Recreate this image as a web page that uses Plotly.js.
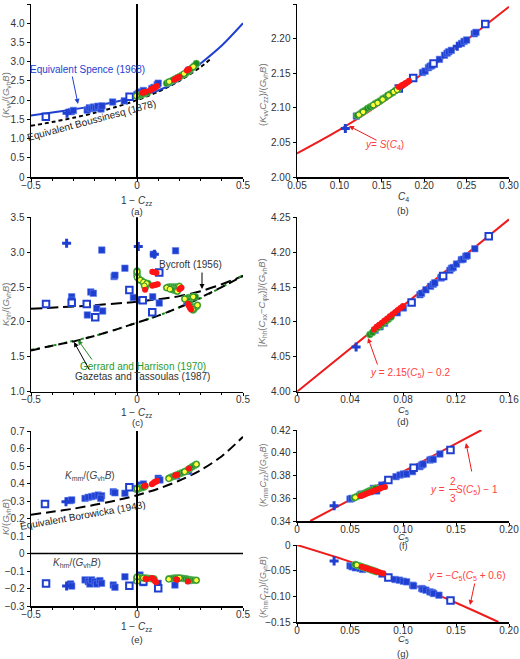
<!DOCTYPE html>
<html><head><meta charset="utf-8">
<script src="https://cdn.plot.ly/plotly-3.0.1.min.js"></script>
<style>html,body{margin:0;padding:0;background:#fff}#c{width:520px;height:659px}</style>
</head><body><div id="c"></div>
<script>
// ---------- Panel (a) ----------
const spenceX=[-0.5,-0.4,-0.3,-0.2,-0.1,0,0.1,0.2,0.3,0.4,0.5];
const spenceY=[1.60,1.68,1.76,1.85,1.96,2.09,2.25,2.52,2.95,3.42,4.00];
const boussX=[-0.5,-0.4,-0.3,-0.2,-0.1,0,0.1,0.2,0.3,0.35];
const boussY=[1.33,1.43,1.54,1.67,1.82,2.0,2.22,2.5,2.86,3.08];
const aFillX=[-0.31,-0.30,-0.235,-0.225,-0.215,-0.205,-0.195,-0.185,-0.17,-0.165,-0.115,-0.06,0.0,0.008,0.018,0.03,0.07,0.08,0.095,0.10,0.245];
const aFillY=[1.70,1.73,1.74,1.80,1.78,1.82,1.80,1.84,1.77,1.85,1.95,1.98,2.15,2.18,2.21,2.25,2.30,2.33,2.40,2.44,2.78];
const aOpenX=[-0.43,-0.035], aOpenY=[1.57,2.09];
const aCrossX=[-0.33], aCrossY=[1.66];
const aGreenX=[0,0.005,0.01,0.015,0.02,0.03,0.04,0.05,0.14,0.15,0.16,0.17,0.18,0.19,0.2,0.21,0.22,0.23,0.24,0.25,0.26,0.27,0.28];
const aGreenY=[2.10,2.11,2.12,2.13,2.14,2.16,2.18,2.20,2.44,2.47,2.49,2.52,2.55,2.58,2.61,2.64,2.67,2.70,2.74,2.79,2.84,2.89,2.95];
const aYelX=[-0.003,0.038,0.152,0.222,0.266], aYelY=[2.11,2.21,2.48,2.69,2.87];
const aRedX=[0.025,0.03,0.035,0.04,0.06,0.065,0.07,0.075,0.08,0.085,0.09,0.095,0.175,0.18,0.185,0.19,0.195,0.2,0.235,0.24,0.245];
const aRedY=[2.19,2.20,2.21,2.22,2.25,2.27,2.28,2.30,2.31,2.33,2.35,2.37,2.53,2.55,2.56,2.58,2.59,2.61,2.77,2.79,2.81];

// ---------- Panel (b) ----------
const bCurveX=[0.05,0.10,0.15,0.20,0.25,0.30];
const bCurveY=[2.034,2.068,2.107,2.151,2.198,2.246];
const bFillX=[0.120,0.198,0.201,0.205,0.207,0.209,0.218,0.224,0.227,0.229,0.232,0.244,0.247,0.250,0.259,0.261];
const bFillY=[2.088,2.151,2.153,2.158,2.160,2.161,2.170,2.176,2.179,2.181,2.183,2.193,2.196,2.198,2.207,2.209];
const bOpenX=[0.170,0.187,0.211,0.272], bOpenY=[2.128,2.143,2.164,2.221];
const bCrossX=[0.107,0.239], bCrossY=[2.070,2.189];
const bGreenX=[0.121,0.124,0.127,0.130,0.133,0.136,0.139,0.142,0.145,0.148,0.151,0.154,0.157,0.160,0.163,0.166,0.169];
const bGreenY=[2.089,2.091,2.094,2.096,2.099,2.101,2.103,2.106,2.108,2.110,2.113,2.115,2.118,2.120,2.122,2.125,2.127];
const bYelX=[0.123,0.128,0.140,0.145,0.151,0.158,0.164,0.168];
const bYelY=[2.090,2.094,2.104,2.107,2.112,2.118,2.123,2.126];
const bRedX=[0.170,0.172,0.174,0.176,0.178,0.180,0.182];
const bRedY=[2.130,2.131,2.133,2.134,2.136,2.137,2.139];

// ---------- Panel (c) ----------
const bycX=[-0.5,-0.25,0,0.2,0.3,0.4,0.5];
const bycY=[2.19,2.23,2.29,2.37,2.44,2.54,2.66];
const gerX=[-0.5,-0.4,-0.3,-0.2,-0.1,0,0.1,0.2,0.3,0.4,0.5];
const gerY=[1.60,1.66,1.73,1.80,1.89,1.99,2.09,2.21,2.34,2.50,2.67];
const gazX=[-0.5,-0.4,-0.3,-0.2,-0.1,0,0.1,0.2,0.3,0.4,0.5];
const gazY=[1.59,1.66,1.72,1.80,1.89,1.99,2.09,2.21,2.35,2.50,2.66];
const cFillX=[-0.166,0.077,0.182,-0.057,-0.108,-0.104,-0.218,-0.206,-0.308,-0.308,-0.017,0.012,0.074,0.105,-0.19,-0.162,-0.234,0.235];
const cFillY=[3.03,2.97,3.02,2.77,2.65,2.67,2.43,2.41,2.36,2.31,2.35,2.31,2.36,2.27,2.195,2.156,2.10,2.29];
const cOpenX=[-0.036,0.105,-0.429,-0.308,-0.237,0.027,-0.197,0.072];
const cOpenY=[2.458,2.71,2.257,2.276,2.257,2.31,2.067,2.138];
const cCrossX=[-0.332,0.006,0.082], cCrossY=[3.127,3.08,2.97];
const cGreenX=[0,0,0,0.002,0.008,0.015,0.022,0.03,0.038,0.045,0.052,0.035,0.04,0.14,0.15,0.16,0.17,0.18,0.19,0.2,0.16,0.17,0.18,0.19,0.225,0.235,0.245,0.255,0.265,0.275,0.24,0.25,0.255,0.26,0.265,0.27,0.28,0.285];
const cGreenY=[2.73,2.70,2.67,2.64,2.62,2.60,2.59,2.57,2.56,2.55,2.55,2.52,2.50,2.49,2.50,2.50,2.50,2.50,2.50,2.51,2.47,2.46,2.45,2.44,2.33,2.34,2.35,2.35,2.36,2.36,2.30,2.26,2.22,2.19,2.17,2.19,2.22,2.24];
const cYelX=[0,0,0.015,0.03,0.045,0.035,0.14,0.155,0.19,0.2,0.225,0.265,0.262,0.285];
const cYelY=[2.72,2.64,2.60,2.57,2.55,2.52,2.49,2.47,2.44,2.51,2.33,2.36,2.18,2.24];
const cRedX=[0.072,0.078,0.085,0.092,0.072,0.078,0.085,0.092,0.098,0.038,0.2,0.205,0.21,0.24,0.243,0.247,0.25,0.255];
const cRedY=[2.72,2.715,2.71,2.705,2.52,2.525,2.53,2.535,2.54,2.46,2.47,2.48,2.49,2.26,2.24,2.22,2.20,2.18];

// ---------- Panel (d) ----------
const dLineX=[0,0.08,0.16], dLineY=[4.0,4.123,4.247];
const dFillX=[0.0589,0.0627,0.066,0.0757,0.0803,0.0928,0.094,0.0973,0.1008,0.1028,0.104,0.1086,0.109,0.1154,0.1166,0.1179,0.1204,0.124,0.1254,0.1274,0.1284,0.1342];
const dFillY=[4.088,4.093,4.098,4.113,4.120,4.139,4.141,4.146,4.151,4.154,4.156,4.163,4.164,4.174,4.177,4.178,4.183,4.189,4.190,4.194,4.195,4.205];
const dOpenX=[0.0865,0.1103,0.1447], dOpenY=[4.128,4.166,4.223];
const dCrossX=[0.0446], dCrossY=[4.064];
const dGreenX=[0.055,0.057,0.059,0.061,0.063,0.065,0.067,0.069,0.071];
const dGreenY=[4.082,4.085,4.089,4.092,4.095,4.098,4.101,4.104,4.107];
const dRedX=[0.058,0.060,0.062,0.064,0.066,0.068,0.070,0.072,0.074,0.076,0.078,0.080];
const dRedY=[4.089,4.093,4.096,4.099,4.102,4.105,4.108,4.111,4.114,4.117,4.120,4.123];

// ---------- Panel (e) ----------
const borX=[-0.5,-0.4,-0.3,-0.2,-0.1,0,0.1,0.2,0.3,0.4,0.5];
const borY=[0.222,0.238,0.256,0.278,0.303,0.333,0.37,0.417,0.476,0.556,0.667];
const eFillX=[-0.316,-0.308,-0.245,-0.230,-0.214,-0.198,-0.183,-0.167,-0.171,-0.112,-0.104,-0.057,-0.001,0.014,0.030,0.10,0.108,0.187,0.243];
const eFillY=[0.302,0.306,0.315,0.321,0.325,0.329,0.334,0.330,0.315,0.353,0.347,0.344,0.372,0.391,0.397,0.43,0.42,0.443,0.47];
const eOpenX=[-0.434,-0.036], eOpenY=[0.283,0.378];
const eCrossX=[-0.335], eCrossY=[0.296];
const eGreenX=[0,0.005,0.01,0.02,0.03,0.15,0.16,0.17,0.18,0.19,0.2,0.21,0.22,0.23,0.24,0.25,0.26,0.27,0.28];
const eGreenY=[0.365,0.37,0.372,0.375,0.378,0.43,0.435,0.44,0.445,0.45,0.455,0.46,0.465,0.47,0.478,0.487,0.495,0.503,0.51];
const eYelX=[0,0.04,0.15,0.225,0.28], eYelY=[0.37,0.382,0.428,0.467,0.51];
const eRedX=[0.035,0.04,0.07,0.075,0.08,0.085,0.09,0.095,0.18,0.185,0.19,0.245];
const eRedY=[0.385,0.388,0.395,0.40,0.405,0.41,0.41,0.415,0.445,0.448,0.45,0.485];
const ehFillX=[-0.313,-0.308,-0.245,-0.230,-0.222,-0.214,-0.198,-0.190,-0.175,-0.167,-0.112,-0.104,-0.057,-0.001,0.014,0.030,0.10,0.179,0.245];
const ehFillY=[-0.174,-0.186,-0.151,-0.161,-0.174,-0.151,-0.161,-0.174,-0.155,-0.170,-0.180,-0.193,-0.133,-0.151,-0.123,-0.167,-0.17,-0.18,-0.155];
const ehOpenX=[-0.429,-0.036,0.10,0.03], ehOpenY=[-0.171,-0.184,-0.199,-0.16];
const ehCrossX=[-0.332], ehCrossY=[-0.186];
const ehGreenX=[0,0.01,0.02,0.03,0.04,0.05,0.06,0.07,0.08,0.15,0.16,0.17,0.18,0.19,0.2,0.21,0.22,0.23,0.24,0.25,0.26,0.27,0.28];
const ehGreenY=[-0.135,-0.137,-0.138,-0.14,-0.14,-0.142,-0.143,-0.144,-0.145,-0.145,-0.143,-0.142,-0.14,-0.14,-0.14,-0.141,-0.143,-0.145,-0.147,-0.15,-0.152,-0.153,-0.153];
const ehYelX=[0,0,0.03,0.15,0.2,0.28], ehYelY=[-0.135,-0.16,-0.14,-0.147,-0.14,-0.153];
const ehRedX=[0.04,0.045,0.07,0.075,0.08,0.085,0.09,0.185,0.19,0.24];
const ehRedY=[-0.145,-0.147,-0.14,-0.145,-0.15,-0.158,-0.165,-0.148,-0.15,-0.16];

// ---------- Panel (f) ----------
const fLineX=[0.0125,0.05,0.10,0.15,0.174], fLineY=[0.340,0.3586,0.3833,0.408,0.420];
const fFillX=[0.050,0.0517,0.0596,0.061,0.069,0.072,0.0752,0.080,0.0934,0.0972,0.1003,0.1034,0.109,0.116,0.1176,0.119,0.1254,0.127,0.1285,0.1348];
const fFillY=[0.3593,0.3599,0.3629,0.3637,0.3658,0.3687,0.3664,0.3716,0.379,0.3804,0.3813,0.3813,0.3834,0.3878,0.3892,0.390,0.3936,0.3942,0.3942,0.3989];
const fOpenX=[0.0862,0.110,0.1448], fOpenY=[0.376,0.3869,0.4024];
const fCrossX=[0.035], fCrossY=[0.3535];
const fGreenX=[0.054,0.056,0.058,0.060,0.062,0.064,0.066,0.068,0.070,0.072,0.074];
const fGreenY=[0.3605,0.3613,0.3622,0.3630,0.3638,0.3646,0.3655,0.3663,0.3671,0.3679,0.3687];
const fYelX=[0.055], fYelY=[0.3607];
const fRedX=[0.060,0.062,0.064,0.066,0.068,0.070,0.072,0.074,0.076,0.078,0.080,0.083];
const fRedY=[0.3620,0.3627,0.3634,0.3641,0.3648,0.3656,0.3663,0.3670,0.3677,0.3684,0.3692,0.3700];

// ---------- Panel (g) ----------
const gLineX=[0,0.05,0.10,0.15,0.19], gLineY=[0,-0.0325,-0.070,-0.1125,-0.150];
const gFillX=[0.050,0.052,0.055,0.0596,0.062,0.080,0.0925,0.0966,0.1003,0.1034,0.109,0.110,0.1176,0.119,0.1216,0.1254,0.1276,0.129,0.1339];
const gFillY=[-0.0404,-0.0424,-0.0444,-0.0457,-0.0476,-0.0568,-0.0672,-0.0685,-0.0705,-0.0718,-0.0783,-0.0796,-0.0848,-0.0861,-0.088,-0.0913,-0.0926,-0.0946,-0.0978];
const gOpenX=[0.0862,0.1448], gOpenY=[-0.0633,-0.1083];
const gCrossX=[0.035], gCrossY=[-0.0313];
const gGreenX=[0.055,0.057,0.059,0.061,0.063,0.065,0.067,0.069,0.071,0.073,0.075];
const gGreenY=[-0.038,-0.0394,-0.0408,-0.0422,-0.0436,-0.045,-0.0464,-0.0478,-0.0492,-0.0506,-0.052];
const gYelX=[0.0564], gYelY=[-0.0391];
const gRedX=[0.061,0.063,0.065,0.067,0.069,0.071,0.073,0.075,0.077,0.079,0.0815];
const gRedY=[-0.0424,-0.0437,-0.045,-0.0463,-0.0476,-0.0489,-0.0502,-0.0515,-0.0528,-0.0541,-0.0555];

// ---------- tick labels ----------
const tkLeftX=[-0.5,0,0.5], tkLeftXT=['\u22120.5','0','0.5'];
const tkLeftMinor=[-0.4,-0.3,-0.2,-0.1,0.1,0.2,0.3,0.4];
const tkAY=[0,0.5,1,1.5,2,2.5,3,3.5,4,4.5], tkAYT=['0','0.5','1.0','1.5','2.0','2.5','3.0','3.5','4.0','4.5'];
const tkBX=[0.05,0.10,0.15,0.20,0.25,0.30], tkBXT=['0.05','0.10','0.15','0.20','0.25','0.30'];
const tkBY=[2.00,2.05,2.10,2.15,2.20,2.25], tkBYT=['2.00','2.05','2.10','2.15','2.20','2.25'];
const tkCY=[1,1.5,2,2.5,3,3.5], tkCYT=['1.0','1.5','2.0','2.5','3.0','3.5'];
const tkDX=[0,0.04,0.08,0.12,0.16], tkDXT=['0','0.04','0.08','0.12','0.16'];
const tkDY=[4.00,4.05,4.10,4.15,4.20,4.25], tkDYT=['4.00','4.05','4.10','4.15','4.20','4.25'];
const tkEY=[-0.3,-0.2,-0.1,0,0.1,0.2,0.3,0.4,0.5,0.6,0.7], tkEYT=['\u22120.3','\u22120.2','\u22120.1','0','0.1','0.2','0.3','0.4','0.5','0.6','0.7'];
const tkFX=[0,0.05,0.10,0.15,0.20], tkFXT=['0','0.05','0.10','0.15','0.20'];
const tkFY=[0.34,0.36,0.38,0.40,0.42], tkFYT=['0.34','0.36','0.38','0.40','0.42'];
const tkGY=[-0.15,-0.10,-0.05,0], tkGYT=['\u22120.15','\u22120.10','\u22120.05','0'];

// ---------- drawing ----------
const W=520,H=659;
const px=x=>x/W, py=y=>1-y/H;
const FONT='"Liberation Sans Narrow", "Liberation Sans", Arial, sans-serif';
const BLUE='#1e3fd0', RED='#ee1c1c', GREEN='#1f8c1f';
const MK={
 fill:{symbol:'square',size:6.5,color:BLUE,line:{color:'#6080f0',width:0.6}},
 open:{symbol:'square',size:6.5,color:'#ffffff',line:{color:BLUE,width:2}},
 cross:{symbol:'cross',size:7.5,color:BLUE,line:{width:0}},
 green:{symbol:'circle',size:7,color:GREEN,line:{color:'#70c870',width:0.6}},
 yel:{symbol:'circle',size:5.5,color:'#ffff3a',line:{color:'#2a8a2a',width:1}},
 red:{symbol:'circle',size:6,color:'#ff1414',line:{width:0}}
};
const traces=[];
function pts(x,y,k,xa,ya){traces.push({type:'scatter',mode:'markers',x:x,y:y,xaxis:xa,yaxis:ya,marker:MK[k],hoverinfo:'skip',showlegend:false});}
function ln(x,y,xa,ya,color,width,dash){traces.push({type:'scatter',mode:'lines',x:x,y:y,xaxis:xa,yaxis:ya,line:{color:color,width:width,dash:dash||'solid',shape:'spline',smoothing:0.8},hoverinfo:'skip',showlegend:false});}
function group(xa,ya,F,O,C,G,Yl,R){
  pts(F[0],F[1],'fill',xa,ya); pts(O[0],O[1],'open',xa,ya); pts(C[0],C[1],'cross',xa,ya);
  pts(G[0],G[1],'green',xa,ya); pts(Yl[0],Yl[1],'yel',xa,ya); pts(R[0],R[1],'red',xa,ya);
}
// (a)
ln(boussX,boussY,'x','y','#000',2,'4px,3px');
ln(spenceX,spenceY,'x','y',BLUE,2);
group('x','y',[aFillX,aFillY],[aOpenX,aOpenY],[aCrossX,aCrossY],[aGreenX,aGreenY],[aYelX,aYelY],[aRedX,aRedY]);
// (b)
ln(bCurveX,bCurveY,'x2','y2',RED,2);
group('x2','y2',[bFillX,bFillY],[bOpenX,bOpenY],[bCrossX,bCrossY],[bGreenX,bGreenY],[bYelX,bYelY],[bRedX,bRedY]);
// (c)
ln(bycX,bycY,'x3','y3','#000',2,'11px,5px');
ln(gerX,gerY,'x3','y3',GREEN,2,'3px,3px,3px,8px');
ln(gazX,gazY,'x3','y3','#000',2,'9px,5px');
group('x3','y3',[cFillX,cFillY],[cOpenX,cOpenY],[cCrossX,cCrossY],[cGreenX,cGreenY],[cYelX,cYelY],[cRedX,cRedY]);
// (d)
ln(dLineX,dLineY,'x4','y4',RED,2);
group('x4','y4',[dFillX,dFillY],[dOpenX,dOpenY],[dCrossX,dCrossY],[dGreenX,dGreenY],[[],[]],[dRedX,dRedY]);
// (e)
ln(borX,borY,'x5','y5','#000',2,'10px,5px');
group('x5','y5',[eFillX,eFillY],[eOpenX,eOpenY],[eCrossX,eCrossY],[eGreenX,eGreenY],[eYelX,eYelY],[eRedX,eRedY]);
group('x5','y5',[ehFillX,ehFillY],[ehOpenX,ehOpenY],[ehCrossX,ehCrossY],[ehGreenX,ehGreenY],[ehYelX,ehYelY],[ehRedX,ehRedY]);
// (f)
ln(fLineX,fLineY,'x6','y6',RED,2);
group('x6','y6',[fFillX,fFillY],[fOpenX,fOpenY],[fCrossX,fCrossY],[fGreenX,fGreenY],[fYelX,fYelY],[fRedX,fRedY]);
// (g)
ln(gLineX,gLineY,'x7','y7',RED,2);
group('x7','y7',[gFillX,gFillY],[gOpenX,gOpenY],[gCrossX,gCrossY],[gGreenX,gGreenY],[gYelX,gYelY],[gRedX,gRedY]);

const LX=[31/W,243/W], RX=[297/W,509/W];
function axis(domain,anchor,range,tv,tt,isX,minorVals){
  const a={domain:domain,anchor:anchor,range:range,tickmode:'array',tickvals:tv,ticktext:tt,
    showline:true,linecolor:'#000',linewidth:1.5,ticks:'outside',ticklen:3,tickwidth:1,tickcolor:'#000',
    showgrid:false,zeroline:false,fixedrange:true,tickfont:{family:FONT,size:10,color:'#333'}};
  if(isX) a.ticklabelstandoff=-5;
  if(minorVals) a.minor={tickvals:minorVals,ticks:'outside',ticklen:2,tickcolor:'#000',showgrid:false};
  return a;
}
const layout={
  width:W,height:H,margin:{l:0,r:0,t:0,b:0},paper_bgcolor:'#fff',plot_bgcolor:'rgba(0,0,0,0)',
  showlegend:false,font:{family:FONT,size:10,color:'#333'},
  xaxis:axis(LX,'y',[-0.5,0.5],tkLeftX,tkLeftXT,true,tkLeftMinor),
  yaxis:axis([py(177),py(4)],'x',[0,4.5],tkAY,tkAYT),
  xaxis2:axis(RX,'y2',[0.05,0.30],tkBX,tkBXT,true),
  yaxis2:axis([py(177),py(4)],'x2',[2.0,2.25],tkBY,tkBYT),
  xaxis3:axis(LX,'y3',[-0.5,0.5],tkLeftX,tkLeftXT,true,tkLeftMinor),
  yaxis3:axis([py(391.7),py(217.3)],'x3',[1,3.5],tkCY,tkCYT),
  xaxis4:axis(RX,'y4',[0,0.16],tkDX,tkDXT,true),
  yaxis4:axis([py(391.7),py(217.3)],'x4',[4.0,4.25],tkDY,tkDYT),
  xaxis5:axis(LX,'y5',[-0.5,0.5],tkLeftX,tkLeftXT,true,tkLeftMinor),
  yaxis5:axis([py(606),py(431)],'x5',[-0.3,0.7],tkEY,tkEYT),
  xaxis6:axis(RX,'y6',[0,0.2],tkFX,tkFXT,true),
  yaxis6:axis([py(521),py(430)],'x6',[0.34,0.42],tkFY,tkFYT),
  xaxis7:axis(RX,'y7',[0,0.2],tkFX,tkFXT,true),
  yaxis7:axis([py(622),py(545)],'x7',[-0.15,0],tkGY,tkGYT),
  shapes:[
    {type:'line',xref:'x',yref:'y domain',x0:0,x1:0,y0:0,y1:1,line:{color:'#000',width:2}},
    {type:'line',xref:'x3',yref:'y3 domain',x0:0,x1:0,y0:0,y1:1,line:{color:'#000',width:2}},
    {type:'line',xref:'x5',yref:'y5 domain',x0:0,x1:0,y0:0,y1:1,line:{color:'#000',width:2}},
    {type:'line',xref:'x5 domain',yref:'y5',x0:0,x1:1,y0:0,y1:0,line:{color:'#000',width:1.5}},
    {type:'line',xref:'paper',yref:'paper',x0:px(449),x1:px(457),y0:py(489.5),y1:py(489.5),line:{color:'#ff4040',width:1}}
  ],
  annotations:[]
};
const ann=layout.annotations;
function T(text,x,y,o){o=o||{};ann.push({text:text,xref:'paper',yref:'paper',x:px(x),y:py(y),showarrow:false,xanchor:'center',yanchor:'middle',textangle:o.a||0,font:{family:FONT,size:o.s||10,color:o.c||'#333'}});}
function A(hx,hy,tx,ty,c){ann.push({text:'',xref:'paper',yref:'paper',x:px(hx),y:py(hy),ax:tx-hx,ay:ty-hy,axref:'pixel',ayref:'pixel',showarrow:true,arrowhead:2,arrowsize:1,arrowwidth:1,arrowcolor:c});}
const GREY='#777';
// axis titles
T('(<i>K</i><sub>vv</sub>/(<i>G</i><sub>vh</sub><i>B</i>)',6,95,{a:-90,c:GREY,s:9.5});
T('(<i>K</i><sub>vv</sub><i>C</i><sub>zz</sub>)/(<i>G</i><sub>vh</sub><i>B</i>)',263,95,{a:-90,c:GREY,s:9.5});
T('<i>K</i><sub>hh</sub>/(<i>G</i><sub>vh</sub><i>B</i>)',6,305,{a:-90,c:GREY,s:9.5});
T('[<i>K</i><sub>hh</sub>(<i>C</i><sub>xx</sub>\u2212<i>C</i><sub>\u03c6x</sub>)]/(<i>G</i><sub>vh</sub><i>B</i>)',263,303,{a:-90,c:GREY,s:9.5});
T('<i>K</i>/(<i>G</i><sub>vh</sub><i>B</i>)',6,517,{a:-90,c:GREY,s:9.5});
T('(<i>K</i><sub>mm</sub><i>C</i><sub>zz</sub>)/(<i>G</i><sub>vh</sub><i>B</i>)',263,475,{a:-90,c:GREY,s:9});
T('(<i>K</i><sub>hm</sub><i>C</i><sub>zz</sub>)/(<i>G</i><sub>vh</sub><i>B</i>)',263,587,{a:-90,c:GREY,s:9});
T('1 \u2212 <i>C</i><sub>zz</sub>',137,201);
T('<i>C</i><sub>4</sub>',403,197);
T('1 \u2212 <i>C</i><sub>zz</sub>',137,413);
T('<i>C</i><sub>5</sub>',403,410,{s:9.5});
T('1 \u2212 <i>C</i><sub>zz</sub>',137,627);
T('<i>C</i><sub>5</sub>',403,537,{s:9.5});
T('<i>C</i><sub>5</sub>',403,639,{s:9.5});
// panel labels
T('(a)',137,212,{s:9.5});T('(b)',403,211,{s:9.5});T('(c)',137,423,{s:9.5});T('(d)',403,422,{s:9.5});
T('(e)',137,639,{s:9.5});T('(f)',403,546,{s:9});T('(g)',403,653,{s:9.5});
// in-plot texts
T('Equivalent Spence (1968)',87,69,{c:BLUE,s:10});
A(78,104,72,75,BLUE);
T('Equivalent Boussinesq (1878)',91,120,{a:-15,c:'#222',s:10});
T('<i>y</i>= <i>S</i>(<i>C</i><sub>4</sub>)',384,145,{c:'#ff4040',s:10});
A(349,126,378,141,RED);
T('Bycroft (1956)',190,264,{c:'#333',s:10});
A(202,289,202,271,'#000');
T('Gerrard and Harrison (1970)',143,366,{c:'#2a9a2a',s:10});
T('Gazetas and Tassoulas (1987)',142,376,{c:'#333',s:10});
A(78,340,93,361,GREEN);
A(74,342,90,371,'#000');
T('<i>y</i> = 2.15(<i>C</i><sub>5</sub>) \u2212 0.2',410,373,{c:'#ff4040',s:10});
A(368,338,378,366,RED);
T('<i>K</i><sub>mm</sub>/(<i>G</i><sub>vh</sub><i>B</i>)',90,476,{c:'#444',s:10});
T('<i>K</i><sub>hm</sub>/(<i>G</i><sub>vh</sub><i>B</i>)',77,563,{c:'#444',s:10});
T('Equivalent Borowicka (1943)',82,515,{a:-10,c:'#222',s:10});
T('<i>y</i> =',437,490,{c:'#ff4040',s:10});
T('2',453,481,{c:'#ff4040',s:10});
T('3',453,498,{c:'#ff4040',s:10});
T('<i>S</i>(<i>C</i><sub>5</sub>) \u2212 1',477,490,{c:'#ff4040',s:10});
A(466,443,472,473,RED);
T('<i>y</i> = \u2212<i>C</i><sub>5</sub>(<i>C</i><sub>5</sub> + 0.6)',467,576,{c:'#ff4040',s:10});
A(470,605,475,582,RED);

Plotly.newPlot('c',traces,layout,{staticPlot:true,displayModeBar:false});
</script>
</body></html>
